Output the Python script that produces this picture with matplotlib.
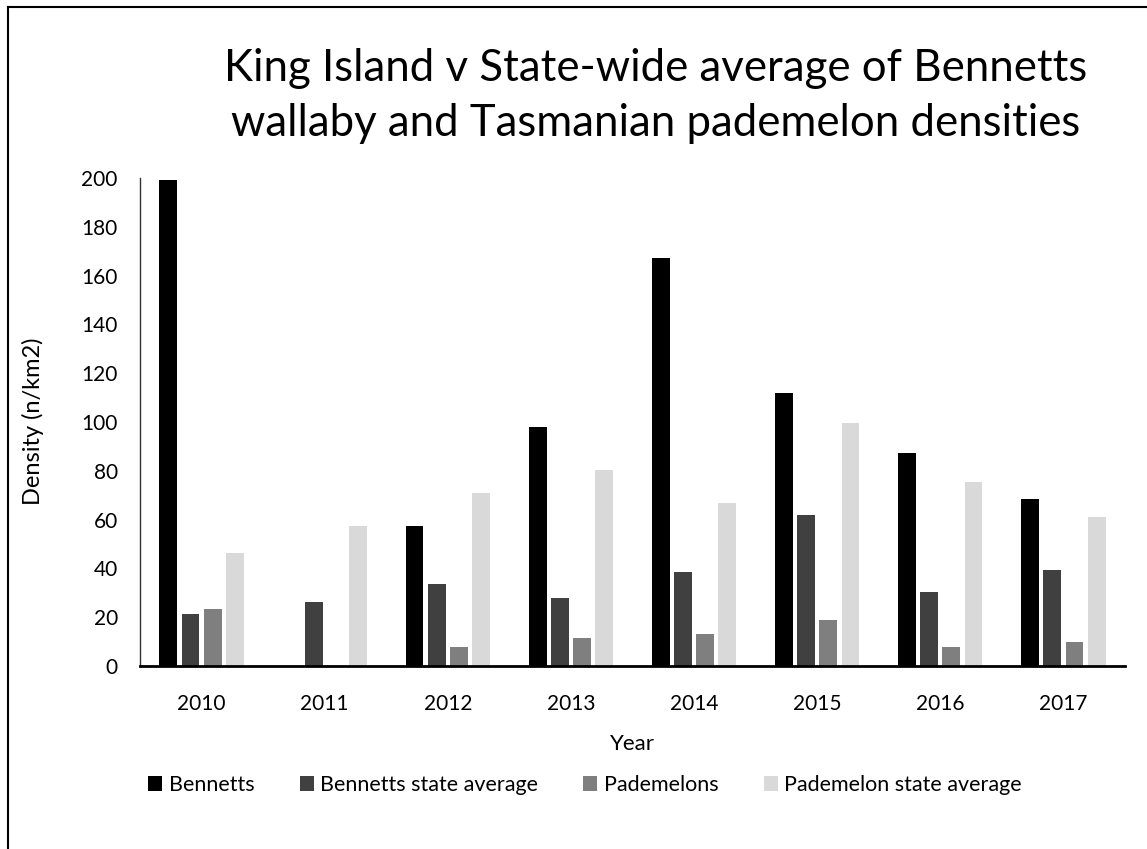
import matplotlib
matplotlib.use("Agg")
import matplotlib.pyplot as plt
from matplotlib.lines import Line2D
import numpy as np

years = ["2010", "2011", "2012", "2013", "2014", "2015", "2016", "2017"]
bennetts = [199.0, 0, 57.4, 98.0, 167.2, 111.7, 87.1, 68.4]
bennetts_state = [21.5, 26.3, 33.8, 28.0, 38.5, 61.7, 30.4, 39.4]
pademelons = [23.3, 0, 7.8, 11.5, 13.3, 18.7, 7.9, 9.8]
pademelon_state = [46.5, 57.4, 70.9, 80.3, 66.6, 99.7, 75.5, 61.1]
series_names = ["Bennetts", "Bennetts state average", "Pademelons", "Pademelon state average"]
colors = ["#000000", "#404040", "#7f7f7f", "#d9d9d9"]

plt.rcParams['font.family'] = ['Lato', 'DejaVu Sans']

W, H = 1147, 849
fig = plt.figure(figsize=(W / 100, H / 100), dpi=100)

ax_l, ax_r, ax_t, ax_b = 140, 1125, 178, 666
ax = fig.add_axes([ax_l / W, (H - ax_b) / H, (ax_r - ax_l) / W, (ax_b - ax_t) / H])

x = np.arange(len(years))
step = 0.18
bw = 0.145
data = [bennetts, bennetts_state, pademelons, pademelon_state]
for i, (vals, name, c) in enumerate(zip(data, series_names, colors)):
    ax.bar(x + (i - 1.5) * step, vals, width=bw, color=c, label=name, zorder=2)

ax.set_xlim(-0.5, len(years) - 0.5)
ax.set_ylim(0, 200)
ax.set_yticks(np.arange(0, 201, 20))
ax.set_xticks(x)
ax.set_xticklabels(years)
ax.tick_params(axis='both', length=0, labelsize=15, colors='#000000')
ax.tick_params(axis='y', pad=16)
ax.tick_params(axis='x', pad=20)
for s in ['top', 'right']:
    ax.spines[s].set_visible(False)
ax.spines['left'].set_color('#333333')
ax.spines['left'].set_linewidth(1.0)
ax.spines['bottom'].set_color('#000000')
ax.spines['bottom'].set_linewidth(2.0)

fig.text(632 / W, 1 - 744 / H, "Year", ha='center', va='center', fontsize=16)
fig.text(33 / W, 1 - 421 / H, "Density (n/km2)", rotation=90, ha='center', va='center', fontsize=17)

fig.text(656 / W, 1 - 96 / H, "King Island v State-wide average of Bennetts\nwallaby and Tasmanian pademelon densities",
         ha='center', va='center', fontsize=31.5, linespacing=1.4)

fig.legend(loc='center', bbox_to_anchor=(585 / W, 1 - 785 / H), ncol=4, frameon=False,
           fontsize=15.5, handlelength=0.65, handleheight=0.65, handletextpad=0.3, columnspacing=2.1)

fig.add_artist(Line2D([8 / W, 8 / W], [0, 1 - 7 / H], color='black', lw=1.5, transform=fig.transFigure))
fig.add_artist(Line2D([8 / W, 1], [1 - 7 / H, 1 - 7 / H], color='black', lw=1.5, transform=fig.transFigure))

fig.savefig("out.png", dpi=100)
